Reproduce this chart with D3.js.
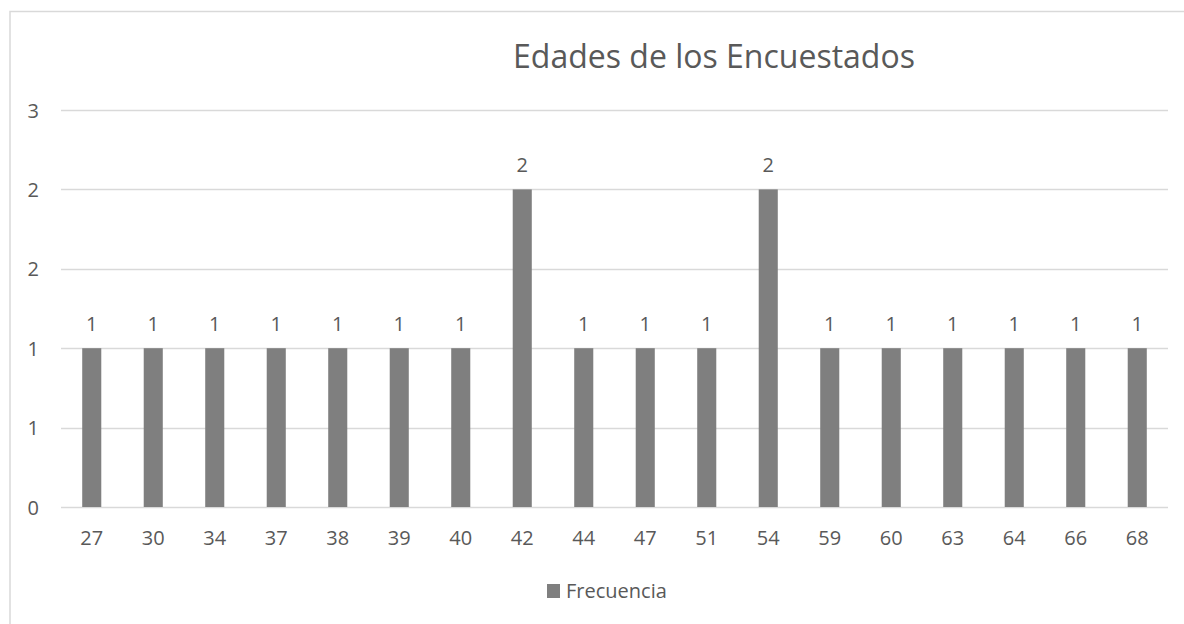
<!DOCTYPE html>
<html><head><meta charset="utf-8">
<script src="https://cdn.jsdelivr.net/npm/d3@7"></script>
<style>body{margin:0;background:#fff}svg{display:block}text{font-family:"Open Sans",sans-serif;fill:#595959}</style>
</head><body>
<script>
const categories = ["27","30","34","37","38","39","40","42","44","47","51","54","59","60","63","64","66","68"];
const values = [1,1,1,1,1,1,1,2,1,1,1,2,1,1,1,1,1,1];
const yTicks = [0,0.5,1,1.5,2,2.5];
const seriesName = "Frecuencia";
const title = "Edades de los Encuestados";

const W=1184,H=624;
const svg=d3.select("body").append("svg").attr("width",W).attr("height",H);
svg.append("rect").attr("x",10).attr("y",11.5).attr("width",W+10).attr("height",H+10)
  .attr("fill","none").attr("stroke","#d9d9d9").attr("stroke-width",1.5);

const x=d3.scaleBand().domain(categories).range([61,1168]).paddingInner(0.69).paddingOuter(0.345);
const y=d3.scaleLinear().domain([0,2.5]).range([507,110]);

// gridlines
svg.append("g").selectAll("line").data(yTicks).join("line")
  .attr("x1",61).attr("x2",1168).attr("y1",d=>Math.round(y(d))+0.5).attr("y2",d=>Math.round(y(d))+0.5)
  .attr("stroke","#d9d9d9").attr("stroke-width",1.5);

// y axis labels
const fmt=d=>String(Math.round(d+1e-9));
const ya=svg.append("g").attr("transform","translate(39,0)")
  .call(d3.axisLeft(y).tickValues(yTicks).tickFormat(fmt).tickSize(0).tickPadding(0));
ya.select(".domain").remove();
ya.selectAll("text").style("font-family","'Open Sans',sans-serif").style("font-size","20px").attr("fill","#595959").attr("dy","0.35em");

// x axis labels
const xa=svg.append("g").attr("transform","translate(0,507)")
  .call(d3.axisBottom(x).tickSize(0).tickPadding(0));
xa.select(".domain").remove();
xa.selectAll("text").style("font-family","'Open Sans',sans-serif").style("font-size","20px").attr("fill","#595959").attr("y",0).attr("dy","38px");

// bars
svg.append("g").selectAll("rect").data(values).join("rect")
  .attr("x",(d,i)=>x(categories[i])).attr("width",x.bandwidth())
  .attr("y",d=>y(d)).attr("height",d=>y(0)-y(d)).attr("fill","#7f7f7f");

// data labels
svg.append("g").selectAll("text").data(values).join("text")
  .attr("x",(d,i)=>x(categories[i])+x.bandwidth()/2).attr("y",d=>y(d)-17)
  .attr("text-anchor","middle").style("font-size","20px").text(d=>d);

// title
svg.append("text").attr("x",714).attr("y",68).attr("text-anchor","middle").style("font-size","32px").text(title);

// legend
svg.append("rect").attr("x",547).attr("y",584).attr("width",13).attr("height",14).attr("fill","#7f7f7f");
svg.append("text").attr("x",566).attr("y",598).style("font-size","20px").text(seriesName);
</script>
</body></html>
